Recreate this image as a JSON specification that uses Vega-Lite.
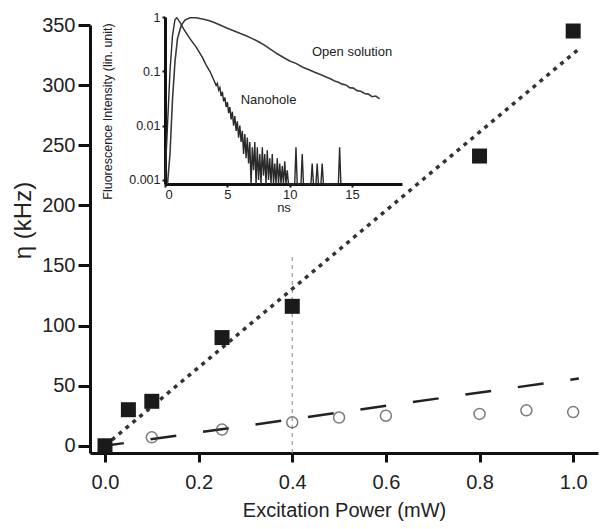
{
  "$schema": "https://vega.github.io/schema/vega-lite/v6.json",
  "width": 508,
  "height": 428,
  "autosize": {"type": "none"},
  "padding": {"left": 90, "top": 25, "right": 2, "bottom": 76},
  "background": "white",
  "config": {
    "view": {"stroke": null},
    "font": "Liberation Sans",
    "axis": {"grid": false, "domainColor": "#111", "tickColor": "#111", "labelColor": "#222", "titleColor": "#222", "titleFontWeight": "normal"}
  },
  "datasets": {
    "squares": [
      {"power": 0.0, "eta": 0},
      {"power": 0.05, "eta": 30},
      {"power": 0.1, "eta": 37},
      {"power": 0.25, "eta": 90},
      {"power": 0.4, "eta": 116},
      {"power": 0.8, "eta": 241},
      {"power": 1.0, "eta": 345}
    ],
    "circles": [
      {"power": 0.1, "eta": 7},
      {"power": 0.25, "eta": 13.5},
      {"power": 0.4, "eta": 19.5},
      {"power": 0.5, "eta": 23.5},
      {"power": 0.6, "eta": 25},
      {"power": 0.8, "eta": 26.5},
      {"power": 0.9, "eta": 29.5},
      {"power": 1.0, "eta": 28}
    ],
    "fits": [
      {"fit": "sq", "power": 0.0, "eta": 0},
      {"fit": "sq", "power": 1.015, "eta": 331},
      {"fit": "ci", "power": 0.0, "eta": 0},
      {"fit": "ci", "power": 1.012, "eta": 56}
    ],
    "marker": [
      {"power": 0.4, "eta": -6, "eta2": 160}
    ],
    "decay": [
      {"curve": "open", "t": 0.2, "I": 0.0005},
      {"curve": "open", "t": 0.4, "I": 0.003},
      {"curve": "open", "t": 0.6, "I": 0.03},
      {"curve": "open", "t": 0.8, "I": 0.15},
      {"curve": "open", "t": 1.0, "I": 0.4},
      {"curve": "open", "t": 1.3, "I": 0.7},
      {"curve": "open", "t": 1.6, "I": 0.88},
      {"curve": "open", "t": 2.0, "I": 0.97},
      {"curve": "open", "t": 2.5, "I": 0.97},
      {"curve": "open", "t": 3.0, "I": 0.92},
      {"curve": "open", "t": 3.5, "I": 0.86},
      {"curve": "open", "t": 4.0, "I": 0.78},
      {"curve": "open", "t": 4.5, "I": 0.7},
      {"curve": "open", "t": 5.0, "I": 0.62},
      {"curve": "open", "t": 5.5, "I": 0.56},
      {"curve": "open", "t": 6.0, "I": 0.5},
      {"curve": "open", "t": 6.5, "I": 0.45},
      {"curve": "open", "t": 7.0, "I": 0.4},
      {"curve": "open", "t": 7.5, "I": 0.35},
      {"curve": "open", "t": 8.0, "I": 0.3},
      {"curve": "open", "t": 8.5, "I": 0.25},
      {"curve": "open", "t": 9.0, "I": 0.21},
      {"curve": "open", "t": 9.5, "I": 0.18},
      {"curve": "open", "t": 10.0, "I": 0.155},
      {"curve": "open", "t": 10.5, "I": 0.14},
      {"curve": "open", "t": 11.0, "I": 0.12},
      {"curve": "open", "t": 11.5, "I": 0.108},
      {"curve": "open", "t": 12.0, "I": 0.096},
      {"curve": "open", "t": 12.5, "I": 0.086},
      {"curve": "open", "t": 13.0, "I": 0.077},
      {"curve": "open", "t": 13.3, "I": 0.072},
      {"curve": "open", "t": 13.6, "I": 0.066},
      {"curve": "open", "t": 13.9, "I": 0.063},
      {"curve": "open", "t": 14.2, "I": 0.058},
      {"curve": "open", "t": 14.5, "I": 0.056},
      {"curve": "open", "t": 14.8, "I": 0.05},
      {"curve": "open", "t": 15.1, "I": 0.049},
      {"curve": "open", "t": 15.4, "I": 0.044},
      {"curve": "open", "t": 15.7, "I": 0.043},
      {"curve": "open", "t": 16.0, "I": 0.039},
      {"curve": "open", "t": 16.3, "I": 0.038},
      {"curve": "open", "t": 16.6, "I": 0.034},
      {"curve": "open", "t": 16.9, "I": 0.035},
      {"curve": "open", "t": 17.2, "I": 0.031},
      {"curve": "nano", "t": 0.0, "I": 0.001},
      {"curve": "nano", "t": 0.2, "I": 0.01},
      {"curve": "nano", "t": 0.4, "I": 0.1},
      {"curve": "nano", "t": 0.6, "I": 0.45},
      {"curve": "nano", "t": 0.8, "I": 0.9},
      {"curve": "nano", "t": 0.95, "I": 0.97},
      {"curve": "nano", "t": 1.2, "I": 0.8},
      {"curve": "nano", "t": 1.5, "I": 0.6},
      {"curve": "nano", "t": 2.0, "I": 0.4},
      {"curve": "nano", "t": 2.5, "I": 0.28},
      {"curve": "nano", "t": 3.0, "I": 0.18},
      {"curve": "nano", "t": 3.3, "I": 0.13},
      {"curve": "nano", "t": 3.6, "I": 0.1},
      {"curve": "nano", "t": 3.9, "I": 0.07},
      {"curve": "nano", "t": 4.1, "I": 0.055},
      {"curve": "nano", "t": 4.2, "I": 0.06},
      {"curve": "nano", "t": 4.3, "I": 0.045},
      {"curve": "nano", "t": 4.4, "I": 0.05},
      {"curve": "nano", "t": 4.5, "I": 0.035},
      {"curve": "nano", "t": 4.6, "I": 0.042},
      {"curve": "nano", "t": 4.7, "I": 0.028},
      {"curve": "nano", "t": 4.8, "I": 0.033},
      {"curve": "nano", "t": 4.9, "I": 0.022},
      {"curve": "nano", "t": 5.0, "I": 0.027},
      {"curve": "nano", "t": 5.1, "I": 0.017},
      {"curve": "nano", "t": 5.2, "I": 0.022},
      {"curve": "nano", "t": 5.3, "I": 0.013},
      {"curve": "nano", "t": 5.4, "I": 0.018},
      {"curve": "nano", "t": 5.5, "I": 0.01},
      {"curve": "nano", "t": 5.6, "I": 0.015},
      {"curve": "nano", "t": 5.7, "I": 0.008},
      {"curve": "nano", "t": 5.8, "I": 0.012},
      {"curve": "nano", "t": 5.9, "I": 0.006},
      {"curve": "nano", "t": 6.0, "I": 0.01},
      {"curve": "nano", "t": 6.1, "I": 0.005},
      {"curve": "nano", "t": 6.2, "I": 0.008},
      {"curve": "nano", "t": 6.3, "I": 0.003},
      {"curve": "nano", "t": 6.4, "I": 0.007},
      {"curve": "nano", "t": 6.5, "I": 0.0025},
      {"curve": "nano", "t": 6.6, "I": 0.006},
      {"curve": "nano", "t": 6.7, "I": 0.002},
      {"curve": "nano", "t": 6.8, "I": 0.005},
      {"curve": "nano", "t": 6.9, "I": 0.0005},
      {"curve": "nano", "t": 7.0, "I": 0.004},
      {"curve": "nano", "t": 7.1, "I": 0.0015},
      {"curve": "nano", "t": 7.2, "I": 0.005},
      {"curve": "nano", "t": 7.3, "I": 0.0005},
      {"curve": "nano", "t": 7.4, "I": 0.004},
      {"curve": "nano", "t": 7.5, "I": 0.001},
      {"curve": "nano", "t": 7.6, "I": 0.003},
      {"curve": "nano", "t": 7.7, "I": 0.0005},
      {"curve": "nano", "t": 7.8, "I": 0.004},
      {"curve": "nano", "t": 7.9, "I": 0.0012},
      {"curve": "nano", "t": 8.0, "I": 0.003},
      {"curve": "nano", "t": 8.1, "I": 0.0005},
      {"curve": "nano", "t": 8.2, "I": 0.0035},
      {"curve": "nano", "t": 8.3, "I": 0.001},
      {"curve": "nano", "t": 8.4, "I": 0.0025},
      {"curve": "nano", "t": 8.5, "I": 0.0005},
      {"curve": "nano", "t": 8.6, "I": 0.003},
      {"curve": "nano", "t": 8.7, "I": 0.0005},
      {"curve": "nano", "t": 8.8, "I": 0.002},
      {"curve": "nano", "t": 8.9, "I": 0.0005},
      {"curve": "nano", "t": 9.0, "I": 0.0025},
      {"curve": "nano", "t": 9.1, "I": 0.0008},
      {"curve": "nano", "t": 9.2, "I": 0.002},
      {"curve": "nano", "t": 9.3, "I": 0.0005},
      {"curve": "nano", "t": 9.4, "I": 0.0018},
      {"curve": "nano", "t": 9.5, "I": 0.0005},
      {"curve": "nano", "t": 9.6, "I": 0.0022},
      {"curve": "nano", "t": 9.7, "I": 0.0005},
      {"curve": "nano", "t": 9.8, "I": 0.0015},
      {"curve": "nano", "t": 9.9, "I": 0.0005},
      {"curve": "nano", "t": 10.4, "I": 0.0005},
      {"curve": "nano", "t": 10.5, "I": 0.004},
      {"curve": "nano", "t": 10.6, "I": 0.0005},
      {"curve": "nano", "t": 10.9, "I": 0.0005},
      {"curve": "nano", "t": 11.0, "I": 0.003},
      {"curve": "nano", "t": 11.1, "I": 0.0005},
      {"curve": "nano", "t": 11.7, "I": 0.0005},
      {"curve": "nano", "t": 11.8, "I": 0.002},
      {"curve": "nano", "t": 11.9, "I": 0.0005},
      {"curve": "nano", "t": 12.1, "I": 0.0005},
      {"curve": "nano", "t": 12.2, "I": 0.002},
      {"curve": "nano", "t": 12.3, "I": 0.0005},
      {"curve": "nano", "t": 12.5, "I": 0.0005},
      {"curve": "nano", "t": 12.6, "I": 0.002},
      {"curve": "nano", "t": 12.7, "I": 0.0005},
      {"curve": "nano", "t": 13.9, "I": 0.0005},
      {"curve": "nano", "t": 14.0, "I": 0.004},
      {"curve": "nano", "t": 14.1, "I": 0.0005}
    ],
    "insetLabels": [
      {"t": 15.0, "I": 0.23, "label": "Open solution"},
      {"t": 8.3, "I": 0.03, "label": "Nanohole"}
    ]
  },
  "layer": [
    {
      "layer": [
        {
          "data": {"name": "marker"},
          "mark": {"type": "rule", "color": "#999", "strokeWidth": 1.2, "strokeDash": [4, 4]},
          "encoding": {
            "x": {"field": "power", "type": "quantitative",
              "scale": {"domain": [-0.032, 1.053], "nice": false, "zero": false},
              "axis": {"orient": "bottom", "values": [0, 0.2, 0.4, 0.6, 0.8, 1.0], "format": ".1f",
                "labelFontSize": 20, "titleFontSize": 20, "domainWidth": 3, "tickWidth": 3, "tickSize": 9,
                "labelPadding": 10, "titlePadding": 8, "title": "Excitation Power (mW)"}},
            "y": {"field": "eta", "type": "quantitative",
              "scale": {"domain": [-6, 350], "nice": false, "zero": false},
              "axis": {"orient": "left", "values": [0, 50, 100, 150, 200, 250, 300, 350],
                "labelFontSize": 20, "titleFontSize": 24, "domainWidth": 3, "tickWidth": 3, "tickSize": 12,
                "labelPadding": 3, "titlePadding": 6, "titleY": 195, "title": "η (kHz)"}},
            "y2": {"field": "eta2"}
          }
        },
        {
          "data": {"name": "fits"},
          "transform": [{"filter": "datum.fit == 'sq'"}],
          "mark": {"type": "line", "color": "#333", "strokeWidth": 3.5, "strokeDash": [4, 5]},
          "encoding": {
            "x": {"field": "power", "type": "quantitative"},
            "y": {"field": "eta", "type": "quantitative"}
          }
        },
        {
          "data": {"name": "fits"},
          "transform": [{"filter": "datum.fit == 'ci'"}],
          "mark": {"type": "line", "color": "#222", "strokeWidth": 2.5, "strokeDash": [26, 27], "strokeDashOffset": 7},
          "encoding": {
            "x": {"field": "power", "type": "quantitative"},
            "y": {"field": "eta", "type": "quantitative"}
          }
        },
        {
          "data": {"name": "circles"},
          "mark": {"type": "point", "shape": "circle", "filled": false, "size": 121, "stroke": "#444", "strokeWidth": 1.5},
          "encoding": {
            "x": {"field": "power", "type": "quantitative"},
            "y": {"field": "eta", "type": "quantitative"}
          }
        },
        {
          "data": {"name": "squares"},
          "mark": {"type": "point", "shape": "square", "filled": true, "size": 225, "color": "#1a1a1a", "opacity": 1},
          "encoding": {
            "x": {"field": "power", "type": "quantitative"},
            "y": {"field": "eta", "type": "quantitative"}
          }
        }
      ]
    },
    {
      "layer": [
        {
          "data": {"name": "decay"},
          "transform": [{"filter": "datum.curve == 'open'"}],
          "mark": {"type": "line", "color": "#3a3a3a", "strokeWidth": 1.6},
          "encoding": {
            "x": {"field": "t", "type": "quantitative",
              "scale": {"domain": [0, 19], "range": [75, 312], "nice": false, "zero": false, "clamp": true},
              "axis": {"orient": "bottom", "offset": -269, "values": [0, 5, 10, 15], "labelFontSize": 13,
                "titleFontSize": 13, "domainWidth": 3, "tickWidth": 2, "tickSize": 3, "labelPadding": 1,
                "titlePadding": 0, "title": "ns"}},
            "y": {"field": "I", "type": "quantitative",
              "scale": {"type": "log", "domain": [0.00084, 1], "range": [159, -8], "nice": false, "clamp": true},
              "axis": {"orient": "left", "offset": -75, "values": [0.001, 0.01, 0.1, 1], "format": "~g",
                "labelFontSize": 12.5, "titleFontSize": 12.5, "domainWidth": 3, "tickWidth": 2, "tickSize": 3,
                "labelPadding": 2, "titlePadding": 14, "titleY": 86, "title": "Fluorescence Intensity (lin. unit)"}}
          }
        },
        {
          "data": {"name": "decay"},
          "transform": [{"filter": "datum.curve == 'nano'"}],
          "mark": {"type": "line", "color": "#2a2a2a", "strokeWidth": 1.4},
          "encoding": {
            "x": {"field": "t", "type": "quantitative"},
            "y": {"field": "I", "type": "quantitative"}
          }
        },
        {
          "data": {"name": "insetLabels"},
          "mark": {"type": "text", "fontSize": 13, "color": "#222", "align": "center", "baseline": "middle"},
          "encoding": {
            "x": {"field": "t", "type": "quantitative"},
            "y": {"field": "I", "type": "quantitative"},
            "text": {"field": "label"}
          }
        }
      ]
    }
  ],
  "resolve": {
    "scale": {"x": "independent", "y": "independent"},
    "axis": {"x": "independent", "y": "independent"}
  }
}
